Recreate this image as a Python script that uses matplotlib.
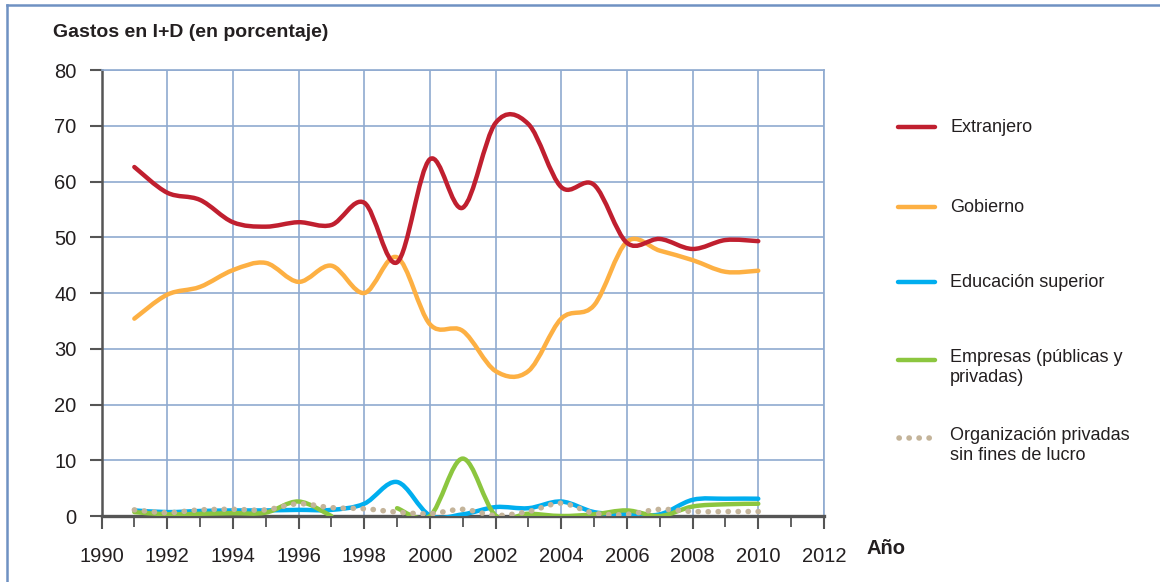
import numpy as np
import matplotlib
matplotlib.use("Agg")
import matplotlib.pyplot as plt
from matplotlib.path import Path
from matplotlib.patches import PathPatch
from matplotlib.lines import Line2D

# === Data ===
years = list(range(1991, 2011))
extranjero = [62.6, 58.0, 56.7, 52.7, 51.9, 52.7, 52.2, 56.2, 45.5, 64.0,
              55.3, 70.5, 70.3, 59.0, 59.4, 49.0, 49.7, 47.9, 49.5, 49.3]
gobierno = [35.4, 39.7, 41.1, 44.1, 45.4, 42.0, 44.9, 40.0, 46.4, 34.4,
            33.2, 26.0, 26.0, 35.4, 37.8, 49.2, 47.6, 45.9, 43.8, 44.0]
educacion = [1.0, 0.7, 0.9, 1.0, 1.0, 1.1, 1.1, 2.2, 6.1, 0.1,
             0.3, 1.6, 1.4, 2.6, 0.7, 0.3, 0.3, 2.9, 3.1, 3.1]
empresas = [0.7, 0.3, 0.4, 0.5, 0.6, 2.6, 0.0, np.nan, 1.4, 0.0,
            10.3, 0.1, 0.4, 0.0, 0.3, 1.0, 0.0, 1.7, 2.1, 2.2]
sin_lucro = [1.1, 0.6, 1.1, 1.2, 1.1, 2.2, 1.5, 1.3, 0.7, 0.4,
             1.2, 0.1, 0.8, 2.3, 0.5, 0.3, 1.2, 0.8, 0.8, 0.8]

labels = ["Extranjero", "Gobierno", "Educación superior",
          "Empresas (públicas y\nprivadas)",
          "Organización privadas\nsin fines de lucro"]

# === Styles ===
c_red = "#C01F2F"
c_orange = "#FDB043"
c_blue = "#00AEEF"
c_green = "#8CC63F"
c_gray = "#C4B49A"
c_grid = "#8FAAD0"
c_text = "#231F20"
c_axis = "#555555"
narrow = ["Liberation Sans Narrow", "Liberation Sans", "DejaVu Sans"]
sans = ["Liberation Sans", "DejaVu Sans"]
dots = (0, (0.05, 1.75))


def smooth_path(x, y):
    # Catmull-Rom style smoothing (like Excel's smoothed line), split at NaN gaps
    x = np.asarray(x, float)
    y = np.asarray(y, float)
    verts, codes = [], []
    ok = ~np.isnan(y)
    runs, cur = [], []
    for i in range(len(x)):
        if ok[i]:
            cur.append(i)
        elif cur:
            runs.append(cur)
            cur = []
    if cur:
        runs.append(cur)
    for run in runs:
        px, py = x[run], y[run]
        n = len(px)
        verts.append((px[0], py[0]))
        codes.append(Path.MOVETO)
        for k in range(n - 1):
            k0 = max(k - 1, 0)
            k3 = min(k + 2, n - 1)
            c1 = (px[k] + (px[k + 1] - px[k0]) / 6, py[k] + (py[k + 1] - py[k0]) / 6)
            c2 = (px[k + 1] - (px[k3] - px[k]) / 6, py[k + 1] - (py[k3] - py[k]) / 6)
            verts += [c1, c2, (px[k + 1], py[k + 1])]
            codes += [Path.CURVE4] * 3
    return Path(verts, codes)


fig = plt.figure(figsize=(11.6, 5.82), dpi=100)
ax = fig.add_axes([0.0875, 0.1134, 0.6228, 0.7663])
ax.set_xlim(1990, 2012)
ax.set_ylim(0, 80)

series = [
    (gobierno, c_orange, "-"),
    (extranjero, c_red, "-"),
    (educacion, c_blue, "-"),
    (empresas, c_green, "-"),
    (sin_lucro, c_gray, dots),
]
for vals, col, ls in series:
    patch = PathPatch(smooth_path(years, vals), facecolor="none", edgecolor=col,
                      lw=3.2 if ls == "-" else 4.0, linestyle=ls,
                      capstyle="round", joinstyle="round", zorder=3)
    ax.add_patch(patch)

# grid and axes
ax.set_xticks(range(1990, 2013, 2))
ax.set_xticks(range(1991, 2012, 2), minor=True)
ax.set_yticks(range(0, 81, 10))
ax.grid(True, which="major", color=c_grid, lw=1.2, zorder=1)
for s in ["top", "right"]:
    ax.spines[s].set_color(c_grid)
    ax.spines[s].set_linewidth(1.2)
ax.spines["left"].set_color(c_axis)
ax.spines["left"].set_linewidth(1.8)
ax.spines["bottom"].set_color(c_axis)
ax.spines["bottom"].set_linewidth(2.4)
ax.tick_params(axis="both", which="major", length=9, width=1.5, color=c_axis,
               labelcolor=c_text, labelsize=14.5)
ax.tick_params(axis="x", which="minor", length=8, width=1.3, color=c_axis)
ax.tick_params(axis="x", pad=13)
ax.tick_params(axis="y", pad=9)
for lab in ax.get_xticklabels() + ax.get_yticklabels():
    lab.set_family(narrow)

fig.text(0.046, 0.945, "Gastos en I+D (en porcentaje)", fontsize=14,
         fontweight="bold", color=c_text, family=sans, va="center", ha="left")
fig.text(0.747, 0.057, "Año", fontsize=14.5, fontweight="bold", color=c_text,
         family=narrow, va="center", ha="left")

# legend, drawn by hand to get the uneven spacing of the reference
H, W = 582.0, 1160.0
leg_y = [127, 207, 282, 360, 438]
leg_cols = [c_red, c_orange, c_blue, c_green, c_gray]
for y, col, lab in zip(leg_y, leg_cols, labels):
    fy = 1 - y / H
    if col == c_gray:
        ln = Line2D([899 / W, 932 / W], [fy, fy], color=col, lw=4.0,
                    linestyle=dots, dash_capstyle="round",
                    transform=fig.transFigure)
    else:
        ln = Line2D([898 / W, 935 / W], [fy, fy], color=col, lw=3.2,
                    solid_capstyle="round", transform=fig.transFigure)
    fig.add_artist(ln)
    if "\n" in lab:
        fig.text(950 / W, fy + 11.5 / H, lab, fontsize=13, color=c_text,
                 family=sans, va="top", ha="left", linespacing=1.25)
    else:
        fig.text(950 / W, fy, lab, fontsize=13, color=c_text, family=sans,
                 va="center", ha="left")

# frame lines at top and left edge
fig.add_artist(Line2D([7 / W, 1], [1 - 5 / H, 1 - 5 / H], color="#6F91C2",
                      lw=1.8, transform=fig.transFigure))
fig.add_artist(Line2D([7 / W, 7 / W], [0, 1 - 5 / H], color="#6F91C2",
                      lw=1.8, transform=fig.transFigure))

fig.savefig("out.png", dpi=100, facecolor="white")
